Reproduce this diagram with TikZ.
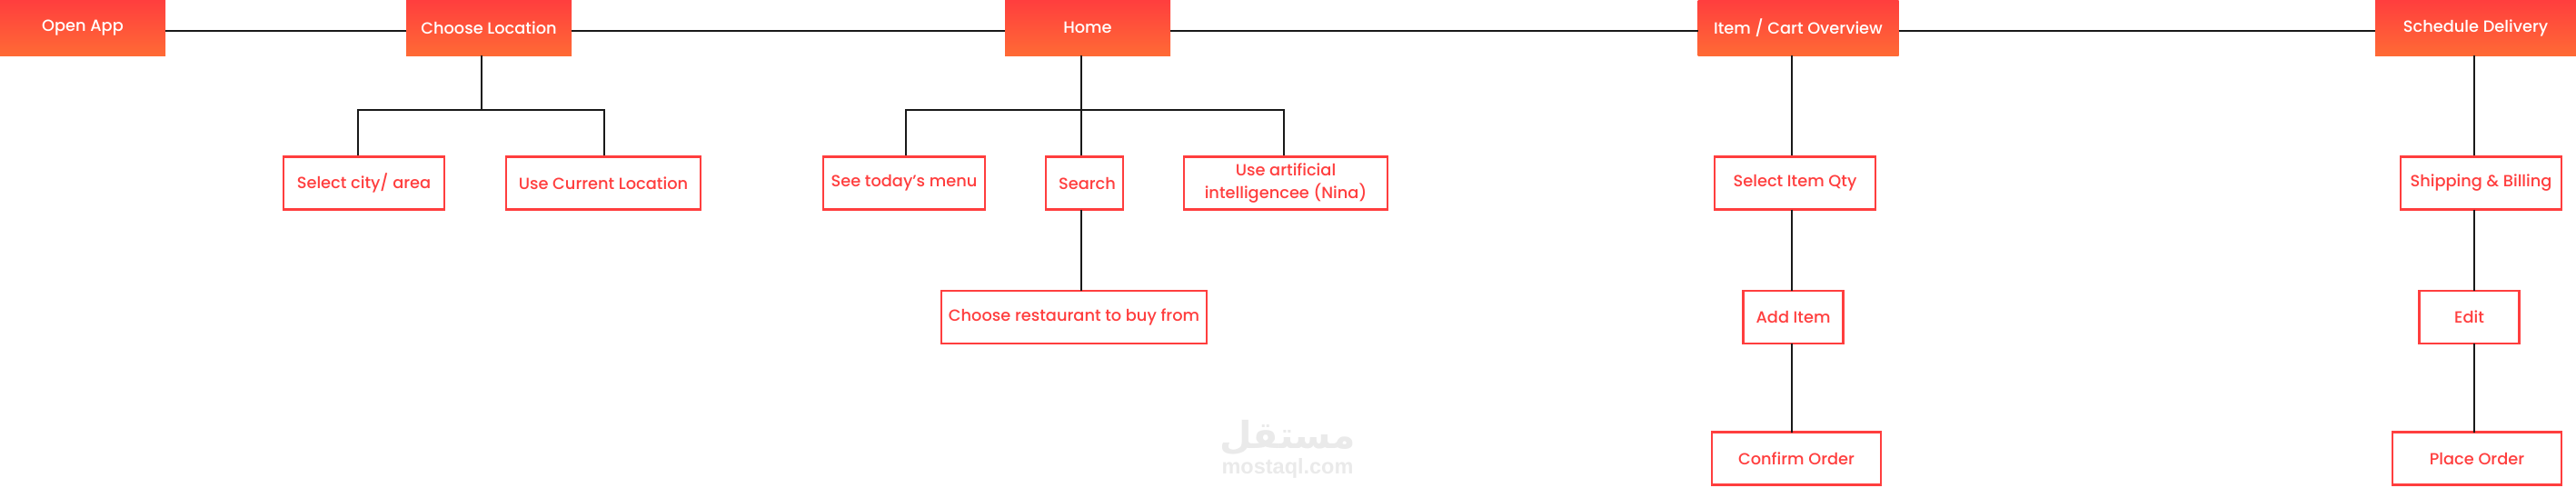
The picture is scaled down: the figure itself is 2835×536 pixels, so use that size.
\documentclass[tikz,border=0pt]{standalone}
\usepackage{fontspec}
\setmainfont{Poppins Medium}
\newfontfamily\arabicfont[Script=Arabic]{DejaVu Sans}
\newfontfamily\markfont{Liberation Sans}
\TeXXeTstate=1
\definecolor{boxred}{HTML}{FF3E3E}
\definecolor{boxorange}{HTML}{FF6A35}
\definecolor{markgray}{HTML}{EAEAEA}

\begin{document}
\begin{tikzpicture}[x=1pt, y=-1pt,
  headbox/.style={top color=boxred, bottom color=boxorange, text=white, minimum height=61, inner sep=0, outer sep=0, font=\fontsize{17.8}{22}\selectfont},
  itembox/.style={draw=boxred, line width=2.5, text=boxred, fill=white, minimum height=58, inner sep=0, outer sep=0, align=center, font=\fontsize{17.8}{25}\selectfont},
  link/.style={line width=2, draw=black!90}]
\useasboundingbox (0, 0) rectangle (2835, 536);
% Top row
\draw (91, 30.5) node[headbox, minimum width=182] (open) {Open App};
\draw (538, 30.5) node[headbox, minimum width=182] (choose) {Choose Location};
\draw (1197, 30.5) node[headbox, minimum width=182] (home) {Home};
\draw (1979, 30.5) node[headbox, minimum width=221] (cart) {Item / Cart Overview};
\draw (2724.5, 30.5) node[headbox, minimum width=221] (delivery) {Schedule Delivery};
% Second row
\draw (400.5, 201.5) node[itembox, minimum width=177] (city) {Select city/ area};
\draw (664, 201.5) node[itembox, minimum width=214] (current) {Use Current Location};
\draw (995, 201.5) node[itembox, minimum width=178] (menu) {See today’s menu};
\draw (1193.5, 201.5) node[itembox, minimum width=85] (search) {\hspace*{6pt}Search};
\draw (1415, 201.5) node[itembox, minimum width=224] (nina) {Use artificial\\intelligencee (Nina)};
\draw (1975.5, 201.5) node[itembox, minimum width=177] (qty) {Select Item Qty};
\draw (2730.5, 201.5) node[itembox, minimum width=177] (billing) {Shipping \& Billing};
% Third row
\draw (1182, 349) node[itembox, minimum width=292] (restaurant) {Choose restaurant to buy from};
\draw (1973.5, 349) node[itembox, minimum width=110] (add) {Add Item};
\draw (2717.5, 349) node[itembox, minimum width=110] (edit) {Edit};
% Last row
\draw (1977, 504.5) node[itembox, minimum width=186] (confirm) {Confirm Order};
\draw (2726, 504.5) node[itembox, minimum width=186] (place) {Place Order};
% Anchors of the lines
\coordinate (topline) at (0, 34);
\coordinate (choosebus) at (530, 121);
\coordinate (citybus) at (394, 121);
\coordinate (currentbus) at (665, 121);
\coordinate (homebus) at (1190, 121);
\coordinate (menubus) at (997, 121);
\coordinate (ninabus) at (1413, 121);
\coordinate (cartline) at (1972, 0);
\coordinate (deliveryline) at (2723, 0);
% Lines
\draw[link] (open.east |- topline) -- (choose.west |- topline);
\draw[link] (choose.east |- topline) -- (home.west |- topline);
\draw[link] (home.east |- topline) -- (cart.west |- topline);
\draw[link] (cart.east |- topline) -- (delivery.west |- topline);
\draw[link] (choose.south -| choosebus) -- (choosebus);
\draw[link, shorten <=2, shorten >=2] (citybus |- city.north) -- (citybus) -- (currentbus) -- (currentbus |- current.north);
\draw[link, shorten >=2] (home.south -| homebus) -- (search.north -| homebus);
\draw[link, shorten <=2, shorten >=2] (menubus |- menu.north) -- (menubus) -- (ninabus) -- (ninabus |- nina.north);
\draw[link] (search.south -| homebus) -- (restaurant.north -| homebus);
\draw[link, shorten >=2] (cart.south -| cartline) -- (qty.north -| cartline);
\draw[link] (qty.south -| cartline) -- (add.north -| cartline);
\draw[link] (add.south -| cartline) -- (confirm.north -| cartline);
\draw[link, shorten >=2] (delivery.south -| deliveryline) -- (billing.north -| deliveryline);
\draw[link] (billing.south -| deliveryline) -- (edit.north -| deliveryline);
\draw[link] (edit.south -| deliveryline) -- (place.north -| deliveryline);
% Mark
\draw (1417, 482) node[text=markgray, font=\arabicfont\bfseries\fontsize{41}{41}\selectfont] (markar) {\beginR مستقل\endR};
\draw (1417, 515) node[text=markgray, font=\markfont\bfseries\fontsize{23.5}{25}\selectfont] (marken) {mostaql.com};
\end{tikzpicture}
\end{document}
